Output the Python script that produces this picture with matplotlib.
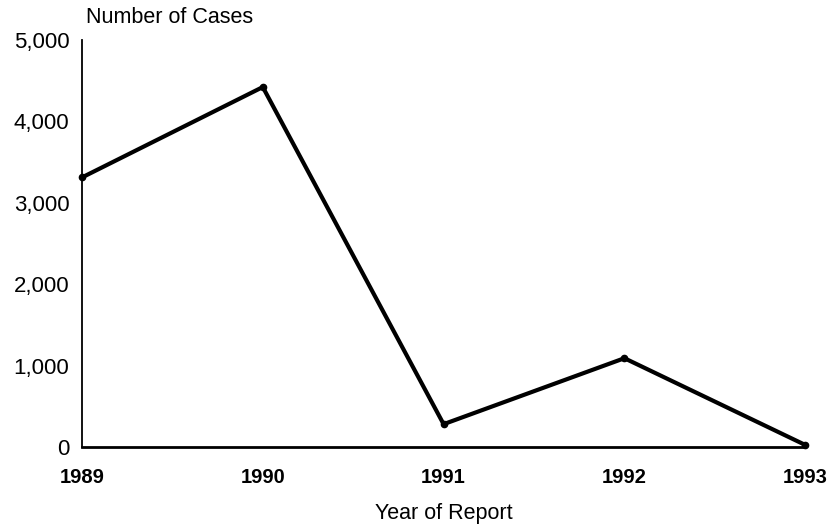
import matplotlib
matplotlib.use("Agg")
import matplotlib.pyplot as plt

years = [1989, 1990, 1991, 1992, 1993]
cases = [3310, 4420, 280, 1090, 25]
y_ticks = [0, 1000, 2000, 3000, 4000, 5000]
y_tick_labels = ["0", "1,000", "2,000", "3,000", "4,000", "5,000"]

plt.rcParams["font.family"] = ["Liberation Sans", "DejaVu Sans"]

fig = plt.figure(figsize=(8.4, 5.24), dpi=100)
ax = fig.add_axes([0.0976, 0.147, 0.861, 0.777])

ax.plot(years, cases, color="black", linewidth=3.0, marker="o",
        markersize=4.5, clip_on=False, solid_joinstyle="miter")

ax.set_xlim(1989, 1993)
ax.set_ylim(0, 5000)
ax.set_xticks(years)
ax.set_xticklabels([str(y) for y in years], fontsize=14.5,
                   fontweight="bold")
ax.set_yticks(y_ticks)
ax.set_yticklabels(y_tick_labels, fontsize=16)
ax.tick_params(axis="both", length=0)
ax.tick_params(axis="x", pad=15)
ax.tick_params(axis="y", pad=9)

for side in ("top", "right"):
    ax.spines[side].set_visible(False)
ax.spines["left"].set_linewidth(1.3)
ax.spines["bottom"].set_linewidth(2.0)

ax.text(0.006, 1.055, "Number of Cases", transform=ax.transAxes,
        fontsize=15.5, ha="left", va="center")
ax.set_xlabel("Year of Report", fontsize=15.5, labelpad=12)

fig.savefig("out.png", dpi=100, facecolor="white")
